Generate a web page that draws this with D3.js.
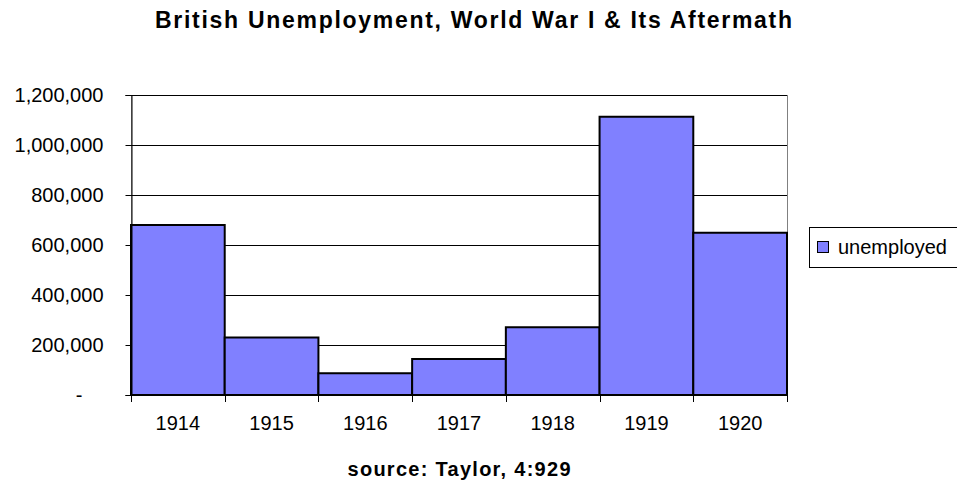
<!DOCTYPE html>
<html>
<head>
<meta charset="utf-8">
<script src="https://cdn.jsdelivr.net/npm/d3@7"></script>
<style>
  body { margin: 0; background: #fff; }
  svg { display: block; font-family: Arial, "Liberation Sans", sans-serif; }
</style>
</head>
<body>
<div id="chart"></div>
<script>
// data
var years = ['1914', '1915', '1916', '1917', '1918', '1919', '1920'];
var unemployed = [680000, 230000, 87000, 144000, 271000, 1113000, 649000];
var yTicks = [0, 200000, 400000, 600000, 800000, 1000000, 1200000];
var seriesName = 'unemployed';

var width = 957, height = 481;
var plot = { left: 131, top: 95, right: 787, bottom: 395 };

var svg = d3.select('#chart').append('svg')
  .attr('width', width)
  .attr('height', height);

var x = d3.scaleBand()
  .domain(years)
  .range([plot.left, plot.right])
  .padding(0);

var y = d3.scaleLinear()
  .domain([0, 1200000])
  .range([plot.bottom, plot.top]);

// plot frame
svg.append('rect')
  .attr('x', plot.left + 0.5)
  .attr('y', plot.top + 0.5)
  .attr('width', plot.right - plot.left)
  .attr('height', plot.bottom - plot.top)
  .attr('fill', 'none')
  .attr('stroke', '#808080');

// gridlines
svg.append('g')
  .selectAll('line')
  .data(yTicks.filter(function (d) { return d > 0; }))
  .enter().append('line')
  .attr('x1', plot.left)
  .attr('x2', plot.right)
  .attr('y1', function (d) { return Math.round(y(d)) + 0.5; })
  .attr('y2', function (d) { return Math.round(y(d)) + 0.5; })
  .attr('stroke', '#000')
  .attr('stroke-width', 1);

// bars
svg.append('g')
  .selectAll('rect')
  .data(unemployed)
  .enter().append('rect')
  .attr('x', function (d, i) { return x(years[i]); })
  .attr('y', function (d) { return y(d); })
  .attr('width', x.bandwidth())
  .attr('height', function (d) { return y(0) - y(d); })
  .attr('fill', '#8080FF')
  .attr('stroke', '#000')
  .attr('stroke-width', 2);

// y axis
var yAxis = d3.axisLeft(y)
  .tickValues(yTicks)
  .tickSize(6)
  .tickPadding(22)
  .tickFormat(function (d) { return d === 0 ? '-' : d3.format(',')(d); });

var gy = svg.append('g')
  .attr('transform', 'translate(' + (plot.left + 0.5) + ',0)')
  .call(yAxis);
gy.select('.domain').attr('stroke', '#000');
gy.selectAll('.tick line').attr('stroke', '#000');
gy.selectAll('.tick text')
  .attr('font-size', 20)
  .attr('font-family', 'Arial, "Liberation Sans", sans-serif')
  .attr('fill', '#000')
  .attr('dx', function (d) { return d === 0 ? -21 : 0; });

// x axis: labels centred in bands, ticks at band edges
var xAxis = d3.axisBottom(x).tickSize(0).tickPadding(20);
var gx = svg.append('g')
  .attr('transform', 'translate(0,' + (plot.bottom + 0.5) + ')')
  .call(xAxis);
gx.select('.domain').remove();
gx.selectAll('.tick text')
  .attr('font-size', 20)
  .attr('font-family', 'Arial, "Liberation Sans", sans-serif')
  .attr('fill', '#000');

svg.append('line')
  .attr('x1', plot.left).attr('x2', plot.right)
  .attr('y1', plot.bottom + 0.5).attr('y2', plot.bottom + 0.5)
  .attr('stroke', '#000');

var edges = years.map(function (d) { return x(d); }).concat([x(years[years.length - 1]) + x.bandwidth()]);
svg.append('g')
  .selectAll('line')
  .data(edges)
  .enter().append('line')
  .attr('x1', function (d) { return Math.round(d) + 0.5; })
  .attr('x2', function (d) { return Math.round(d) + 0.5; })
  .attr('y1', plot.bottom)
  .attr('y2', plot.bottom + 7)
  .attr('stroke', '#000');

// title and source
svg.append('text')
  .attr('x', 473.5)
  .attr('y', 28)
  .attr('text-anchor', 'middle')
  .attr('font-size', 23)
  .attr('font-weight', 'bold')
  .attr('textLength', 637)
  .attr('lengthAdjust', 'spacing')
  .text('British Unemployment, World War I & Its Aftermath');

svg.append('text')
  .attr('x', 459)
  .attr('y', 476)
  .attr('text-anchor', 'middle')
  .attr('font-size', 20)
  .attr('font-weight', 'bold')
  .attr('textLength', 223)
  .attr('lengthAdjust', 'spacing')
  .text('source: Taylor, 4:929');

// legend
var legend = svg.append('g');
legend.append('rect')
  .attr('x', 809.5).attr('y', 227.5)
  .attr('width', 150).attr('height', 40)
  .attr('fill', '#fff')
  .attr('stroke', '#000');
legend.append('rect')
  .attr('x', 817.5).attr('y', 241.5)
  .attr('width', 11).attr('height', 11)
  .attr('fill', '#8080FF')
  .attr('stroke', '#000');
legend.append('text')
  .attr('x', 838)
  .attr('y', 254)
  .attr('font-size', 20)
  .text(seriesName);
</script>
</body>
</html>
